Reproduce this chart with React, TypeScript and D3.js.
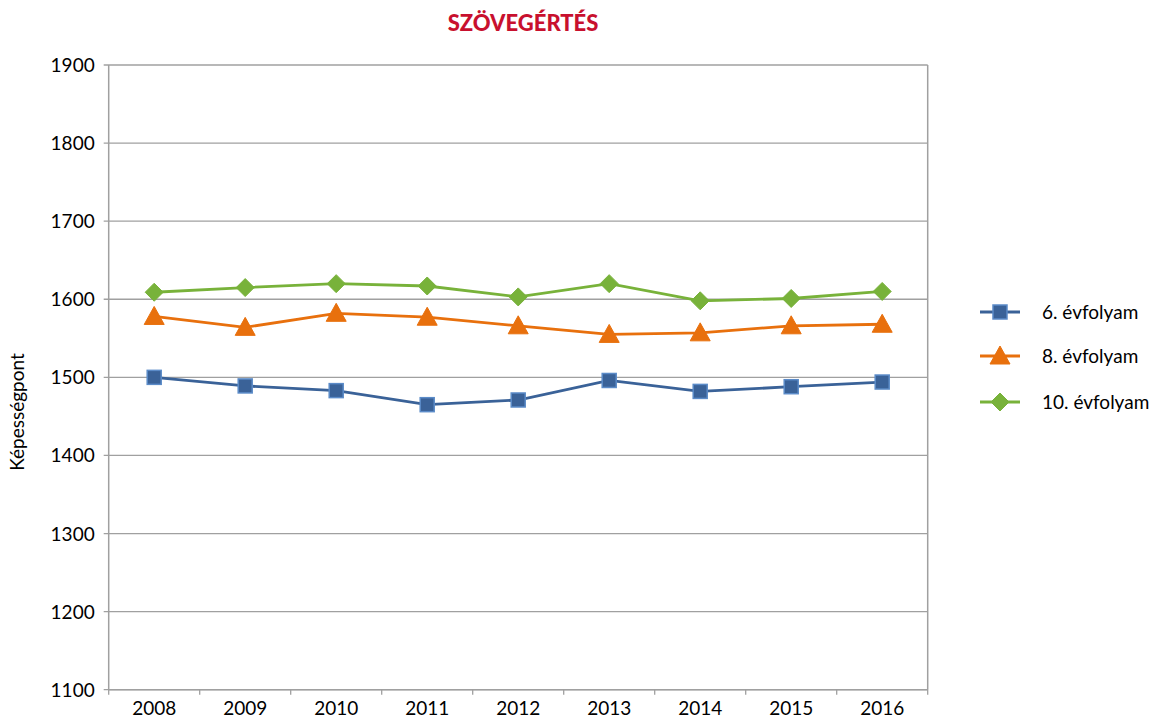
import React from "react";
import * as d3 from "d3";

const years = ["2008", "2009", "2010", "2011", "2012", "2013", "2014", "2015", "2016"];
const grade6 = [1500, 1489, 1483, 1465, 1471, 1496, 1482, 1488, 1494];
const grade8 = [1578, 1564, 1582, 1577, 1566, 1555, 1557, 1566, 1568];
const grade10 = [1609, 1615, 1620, 1617, 1603, 1620, 1598, 1601, 1610];
const yTicks = [1100, 1200, 1300, 1400, 1500, 1600, 1700, 1800, 1900];
const seriesNames = ["6. évfolyam", "8. évfolyam", "10. évfolyam"];
const title = "SZÖVEGÉRTÉS";
const yLabel = "Képességpont";

const W = 1154;
const H = 719;
const left = 108.7;
const right = 927.7;
const top = 65;
const bottom = 689.7;
const FONT = "'Lato', 'Open Sans', sans-serif";
const GRID = "#a0a0a0";

const series = [
  { name: seriesNames[0], values: grade6, line: "#3a6298", fill: "#3a6298", stroke: "#5b8bc8", shape: "square" },
  { name: seriesNames[1], values: grade8, line: "#e8700d", fill: "#e8700d", stroke: "#e8700d", shape: "triangle" },
  { name: seriesNames[2], values: grade10, line: "#78b23a", fill: "#78b23a", stroke: "#78b23a", shape: "diamond" },
];

function Marker({ shape, x, y, fill, stroke }: any) {
  if (shape === "square") {
    return <rect x={x - 7} y={y - 7} width={14} height={14} fill={fill} stroke={stroke} strokeWidth={1.5} />;
  }
  if (shape === "triangle") {
    const p = `${x},${y - 10} ${x + 10},${y + 8} ${x - 10},${y + 8}`;
    return <polygon points={p} fill={fill} stroke={stroke} strokeWidth={1} />;
  }
  const p = `${x},${y - 9} ${x + 9},${y} ${x},${y + 9} ${x - 9},${y}`;
  return <polygon points={p} fill={fill} stroke={stroke} strokeWidth={1} />;
}

export default function App() {
  const x = d3.scaleBand<string>().domain(years).range([left, right]);
  const y = d3.scaleLinear().domain([1100, 1900]).range([bottom, top]);
  const cx = (yr: string) => (x(yr) as number) + x.bandwidth() / 2;
  const line = d3
    .line<number>()
    .x((_, i) => cx(years[i]))
    .y((v) => y(v));

  const legendY = [312, 356, 402];

  return (
    <div style={{ position: "absolute", left: 0, top: 0 }}>
      <svg width={W} height={H} style={{ display: "block", background: "#fff" }}>
        <text x={523} y={31} textAnchor="middle" fontFamily={FONT} fontWeight="900" fontSize={22} fill="#c8102e">
          {title}
        </text>
        {yTicks.map((t) => (
          <g key={t}>
            <line x1={left - 5} x2={right} y1={y(t)} y2={y(t)} stroke={GRID} strokeWidth={1.3} />
            <text x={left - 14} y={y(t) + 7} textAnchor="end" fontFamily={FONT} fontSize={19} fill="#000">
              {t}
            </text>
          </g>
        ))}
        <line x1={left} x2={left} y1={top} y2={bottom} stroke={GRID} strokeWidth={1.5} />
        <line x1={right} x2={right} y1={top} y2={bottom} stroke={GRID} strokeWidth={1.5} />
        <line x1={left} x2={right} y1={bottom} y2={bottom} stroke={GRID} strokeWidth={1.5} />
        {years.concat([""]).map((yr, i) => {
          const xx = left + i * x.bandwidth();
          return <line key={i} x1={xx} x2={xx} y1={bottom} y2={bottom + 5} stroke={GRID} strokeWidth={1.3} />;
        })}
        {years.map((yr) => (
          <text key={yr} x={cx(yr)} y={715} textAnchor="middle" fontFamily={FONT} fontSize={19} fill="#000">
            {yr}
          </text>
        ))}
        <text
          transform={`translate(24, 412) rotate(-90)`}
          textAnchor="middle"
          fontFamily={FONT}
          fontSize={19}
          fill="#000"
        >
          {yLabel}
        </text>
        {series.map((s) => (
          <g key={s.name}>
            <path d={line(s.values) || ""} fill="none" stroke={s.line} strokeWidth={2.8} />
            {s.values.map((v, i) => (
              <Marker key={i} shape={s.shape} x={cx(years[i])} y={y(v)} fill={s.fill} stroke={s.stroke} />
            ))}
          </g>
        ))}
        {series.map((s, i) => (
          <g key={"lg" + s.name}>
            <line x1={980} x2={1020} y1={legendY[i]} y2={legendY[i]} stroke={s.line} strokeWidth={2.8} />
            <Marker shape={s.shape} x={1000} y={legendY[i]} fill={s.fill} stroke={s.stroke} />
            <text x={1042} y={legendY[i] + 7} fontFamily={FONT} fontSize={19} fill="#000">
              {s.name}
            </text>
          </g>
        ))}
      </svg>
    </div>
  );
}
